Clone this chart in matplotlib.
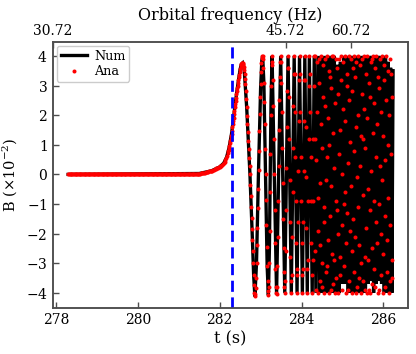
import numpy as np
import matplotlib
matplotlib.use("Agg")
import matplotlib.pyplot as plt

plt.rcParams['font.family'] = ['DejaVu Serif']
plt.rcParams['mathtext.fontset'] = 'dejavuserif'

# ---------------- Num (numerical) waveform: key points ----------------
num_pulse_t = [278.30, 281.50, 281.80, 282.00, 282.10, 282.17, 282.23, 282.29, 282.33, 282.37,
               282.42, 282.46, 282.50, 282.53, 282.56, 282.60, 282.66, 282.74, 282.80, 282.83, 282.86]
num_pulse_B = [0.0, 0.03, 0.12, 0.25, 0.38, 0.58, 0.90, 1.37, 1.80, 2.27,
               2.80, 3.18, 3.55, 3.72, 3.76, 3.52, 2.27, 0.0, -2.2, -3.4, -4.12]

num_osc_t = [282.90, 282.947, 283.00, 283.03, 283.05, 283.08, 283.12, 283.16, 283.19,
             283.215, 283.235, 283.255, 283.28, 283.39, 283.49, 283.59, 283.67, 283.75,
             283.82, 283.89, 283.95, 284.02, 284.08, 284.14, 284.19, 284.26, 284.31]
num_osc_B = [-3.0, 0.0, 2.9, 3.85, 4.0, 3.1, 0.0, -3.1, -4.08,
             -2.5, 0.0, 2.5, 4.0, -4.05, 4.0, -4.0, 4.0, -4.0,
             4.0, -4.0, 4.0, -4.0, 4.0, -4.0, 4.0, -4.0, 4.0]

num_dense_t = [284.35, 284.40, 284.44, 284.48, 284.52, 284.56, 284.60, 284.64, 284.68, 284.72,
               284.76, 284.80, 284.84, 284.88, 284.915, 284.95, 284.99, 285.03, 285.065, 285.10,
               285.14, 285.175, 285.21, 285.245, 285.28, 285.315, 285.35, 285.385, 285.42, 285.455,
               285.49, 285.525, 285.56, 285.59, 285.625, 285.66, 285.69, 285.725, 285.76, 285.79,
               285.825, 285.86, 285.89, 285.925, 285.955, 285.99, 286.02, 286.05, 286.085, 286.115,
               286.145, 286.175, 286.205, 286.235]
num_dense_B = [-4.0, 4.0, -4.0, 4.0, -4.0, 4.0, -4.0, 4.0, -4.0, 4.0,
               -4.0, 4.0, -4.0, 3.7, -4.0, 3.8, -3.7, 4.0, -3.7, 4.0,
               -4.0, 4.0, -4.0, 4.0, -4.0, 4.0, -4.0, 4.0, -4.0, 4.0,
               -4.0, 4.0, -4.0, 4.0, -3.7, 4.0, -3.6, 4.0, -4.0, 4.0,
               -3.7, 4.0, -3.6, 4.0, -3.7, 4.0, -4.0, 4.0, -4.0, 3.8,
               -4.0, 3.6, -4.0, 3.5]

# ---------------- Ana (analytic) samples: dot positions ----------------
ana_flat_t0, ana_flat_dt = 278.30, 0.02
ana_flat_B = [0.0] * 160

ana_rise_t0, ana_rise_dt = 281.50, 0.02
ana_rise_B = [0.03, 0.03, 0.04, 0.04, 0.05, 0.05, 0.06, 0.06, 0.07, 0.08,
              0.08, 0.09, 0.10, 0.11, 0.11, 0.12, 0.13, 0.14, 0.16, 0.17,
              0.18, 0.20, 0.21, 0.22, 0.24, 0.25, 0.27, 0.30, 0.32, 0.35,
              0.38, 0.43, 0.49, 0.55, 0.62]

ana_fine_t0, ana_fine_dt = 282.20, 0.01
ana_peak_B = [0.72, 0.78, 0.84, 0.90, 0.97, 1.05, 1.13, 1.21, 1.29, 1.37,
              1.48, 1.59, 1.70, 1.80, 1.92, 2.04, 2.15, 2.27, 2.38, 2.48,
              2.59, 2.70, 2.80, 2.90, 3.00, 3.09, 3.18, 3.28, 3.37, 3.46,
              3.55, 3.62, 3.68, 3.72, 3.75, 3.76, 3.76]
ana_fall_B = [3.74, 3.70, 3.62, 3.52, 3.38, 3.22, 3.04, 2.82, 2.56, 2.27,
              1.98, 1.70, 1.42, 1.13, 0.85, 0.57, 0.28, 0.0, -0.37, -0.73,
              -1.1, -1.47, -1.83, -2.2, -2.6, -3.0, -3.4, -3.75, -4.0, -4.12]
ana_osc_B = [-4.05, -3.85, -3.5, -3.0, -2.4, -1.8, -1.15, -0.5, 0.15, 0.8,
             1.45, 2.05, 2.6, 3.05, 3.45, 3.75, 3.92, 3.99, 4.0,
             3.9, 3.6, 3.1, 2.45, 1.7, 0.85, 0.0, -0.85, -1.7, -2.45, -3.1, -3.6, -3.95, -4.08,
             -3.8, -3.0, -1.9, -0.6, 0.7, 2.0, 3.0, 3.7, 4.0,
             3.8, 3.2, 2.3, 1.2, 0.0, -1.2, -2.3, -3.2, -3.8, -4.0, -4.05,
             -3.8, -3.1, -2.1, -0.9, 0.3, 1.5, 2.5, 3.3, 3.8, 4.0,
             3.8, 3.1, 2.1, 0.9, -0.3, -1.5, -2.5, -3.3, -3.8, -4.0,
             -3.6, -2.6, -1.2, 0.2, 1.6, 2.8, 3.6, 4.0,
             3.6, 2.6, 1.2, -0.2, -1.6, -2.8, -3.6, -4.0,
             -3.4, -2.1, -0.6, 0.9, 2.3, 3.4, 4.0,
             3.4, 2.1, 0.6, -0.9, -2.3, -3.4, -4.0,
             -3.2, -1.6, 0.1, 1.8, 3.2, 4.0,
             3.4, 2.1, 0.6, -0.9, -2.3, -3.4, -4.0,
             -3.2, -1.6, 0.1, 1.8, 3.2, 4.0,
             3.2, 1.6, -0.1, -1.8, -3.2, -4.0,
             -2.9, -0.9, 1.2, 3.0, 4.0,
             3.4, 2.1, 0.6, -0.9, -2.3, -3.4, -4.0,
             -2.9, -0.9, 1.2, 3.0, 4.0]
ana_dense_B = [4.0, 1.2, -2.6, -3.9, 0.5, 3.8, 2.1, -1.9, -4.0, -0.8, 3.1, 3.9, -0.3, -3.6, -2.4, 1.7, 4.0, 0.9, -3.0, -3.8,
               2.6, 3.7, -1.1, -4.0, -1.6, 2.3, 3.9, -0.2, -3.3, -3.1, 0.6, 4.0, 1.9, -2.2, -4.0, 1.0, 3.5, 3.3, -1.4, -3.9,
               -0.4, 2.9, 4.0, -2.7, -3.7, 1.4, 4.0, 0.2, -2.9, -4.0, 2.4, 3.9, -0.9, -3.5, -1.2, 3.6, 2.7, -2.0, -4.0, 0.7,
               3.9, 1.5, -3.4, -2.8, 3.2, 4.0, -1.7, -3.9, 0.0, 2.2, 3.8, -3.1, -1.0, 1.8, 4.0, -0.6, -4.0, -2.3, 3.4, 3.0,
               -1.3, -3.9, 0.4, 4.0, 2.5, -3.6, -1.9, 1.1, 3.9, -0.4, -2.6, -4.0, 2.8, 3.6, -1.5, -3.3, 0.8, 4.0, 3.3, -2.1,
               -4.0, 1.6, 3.8, -0.1, -3.8, -1.1, 2.0, 4.0, -2.4, -3.5, 0.3, 3.7, 1.3, -3.0, -4.0, 2.7, 3.9, -0.7, -3.6, 1.2,
               4.0, 2.2, -2.8, -3.9, 0.9, 3.4, -1.8, -4.0, 1.9, 4.0, -0.5, -2.9, -3.9, 3.1, 2.6, -1.2, -4.0, 0.1, 3.8, 3.9,
               -2.5, -3.7, 1.4, 4.0, -0.9, -3.2, 2.4, 3.6, -3.8, -1.6, 0.6, 4.0, 1.7, -2.3, -4.0, 3.3, 2.9, -1.0, -3.9, 0.3,
               3.9, -2.0, -3.4, 2.1, 4.0, -0.2, -4.0, -2.7, 1.3, 3.7, 3.2, -1.4, -3.8, 0.5, 2.5, 4.0, -3.3, -2.2, 1.0, 3.5,
               -0.8, -4.0, 2.0, 3.9, -1.7, -3.6, 0.7, 3.4, 2.6, -2.9, -3.5]

merger_t = 282.31
top_tick_pos = [277.93, 283.61, 285.21]
top_tick_labels = ['30.72', '45.72', '60.72']
x_ticks = [278, 280, 282, 284, 286]
y_ticks = [-4, -3, -2, -1, 0, 1, 2, 3, 4]

# ---------------- assemble ----------------
num_t = np.array(num_pulse_t + num_osc_t + num_dense_t)
num_B = np.array(num_pulse_B + num_osc_B + num_dense_B)

ana_fine_B = ana_peak_B + ana_fall_B + ana_osc_B + ana_dense_B
ana_t = np.concatenate([
    ana_flat_t0 + ana_flat_dt * np.arange(len(ana_flat_B)),
    ana_rise_t0 + ana_rise_dt * np.arange(len(ana_rise_B)),
    ana_fine_t0 + ana_fine_dt * np.arange(len(ana_fine_B)),
])
ana_B = np.array(ana_flat_B + ana_rise_B + ana_fine_B)

fig = plt.figure(figsize=(4.16, 3.54), dpi=100)
ax = fig.add_axes([0.1274, 0.1308, 0.8534, 0.7506])

ax.plot(num_t, num_B, color='black', lw=2.4, label='Num', zorder=2, solid_joinstyle='miter')
ax.plot(ana_t, ana_B, ls='none', marker='o', ms=2.9, mew=0, color='red', label='Ana', zorder=3)
ax.axvline(merger_t, color='blue', ls=(0, (4.0, 2.0)), lw=2.0, zorder=4)

ax.set_xlim(277.93, 286.6)
ax.set_ylim(-4.5, 4.47)
ax.set_xticks(x_ticks)
ax.set_yticks(y_ticks)
ax.set_yticklabels([f'${v}$' if v >= 0 else f'$-{abs(v)}$' for v in y_ticks])
ax.tick_params(direction='in', length=4, width=1, color='0.3', labelsize=10, pad=4)
for s in ax.spines.values():
    s.set_color('0.3')
    s.set_linewidth(1.1)

ax.set_xlabel('t (s)', fontsize=11.5, labelpad=2)
ax.set_ylabel(r'B $(\times10^{-2})$', fontsize=10.5, labelpad=5)

ax2 = ax.twiny()
ax2.set_xlim(ax.get_xlim())
ax2.set_xticks(top_tick_pos)
ax2.set_xticklabels(top_tick_labels)
ax2.tick_params(direction='in', length=4, width=1, color='0.3', labelsize=10, pad=3)
for s in ax2.spines.values():
    s.set_color('0.3')
    s.set_linewidth(1.1)
ax2.set_xlabel('Orbital frequency (Hz)', fontsize=11.5, labelpad=2.5)

leg = ax.legend(loc='upper left', fontsize=9.2, handlelength=2.1, borderpad=0.3,
                labelspacing=0.2, handletextpad=0.5, borderaxespad=0.3, framealpha=1)
leg.get_frame().set_edgecolor('0.8')

fig.savefig('out.png', dpi=100)
